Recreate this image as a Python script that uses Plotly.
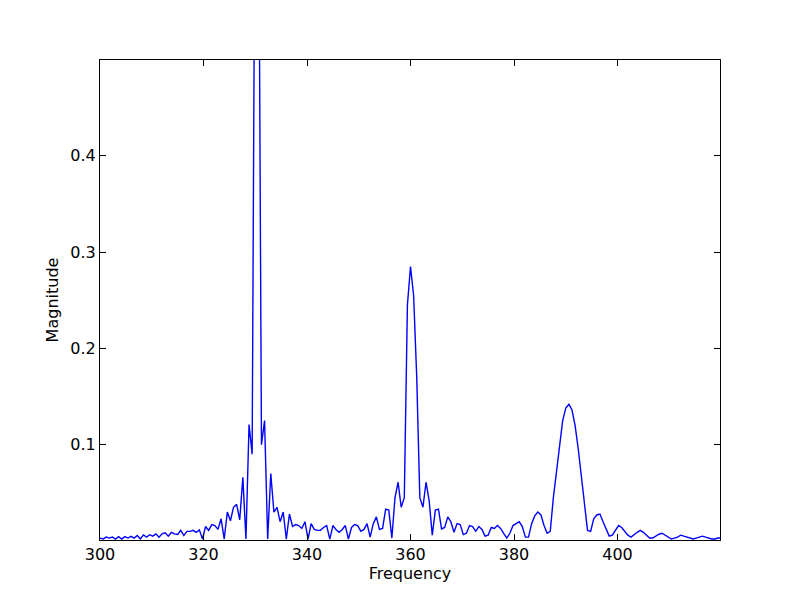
import plotly.graph_objects as go

# Frequency grid (Hz) and magnitude spectrum values
f_start = 300.0
f_step = 0.6
magnitude = [
    # 300 - 309.6
    0.003, 0.002, 0.004, 0.003, 0.004, 0.002, 0.0045, 0.002, 0.0045, 0.003,
    0.0048, 0.003, 0.0056, 0.002, 0.0063, 0.004, 0.0065, 0.005, 0.0074, 0.004,
    # 312 - 321.4
    0.0074, 0.0084, 0.005, 0.009, 0.0074, 0.0067, 0.011, 0.0056, 0.010, 0.010,
    0.011, 0.009, 0.0115, 0.002, 0.015, 0.011, 0.017, 0.016, 0.012, 0.023,
    # 324 - 335.4
    0.002, 0.030, 0.021, 0.035, 0.038, 0.022, 0.066, 0.002, 0.121, 0.090,
    0.75, 0.75, 0.100, 0.125, 0.002, 0.070, 0.030, 0.035, 0.020, 0.030,
    # 336 - 347.4
    0.002, 0.028, 0.015, 0.017, 0.016, 0.013, 0.020, 0.002, 0.018, 0.012,
    0.011, 0.011, 0.014, 0.016, 0.002, 0.016, 0.012, 0.009, 0.012, 0.016,
    # 348 - 359.4
    0.002, 0.014, 0.017, 0.016, 0.010, 0.012, 0.018, 0.004, 0.018, 0.025,
    0.012, 0.013, 0.033, 0.032, 0.003, 0.045, 0.061, 0.035, 0.045, 0.245,
    # 360 - 371.4
    0.285, 0.255, 0.170, 0.045, 0.035, 0.061, 0.042, 0.006, 0.032, 0.033,
    0.0125, 0.014, 0.025, 0.020, 0.009, 0.018, 0.017, 0.0066, 0.008, 0.016,
    # 372 - 383.4
    0.015, 0.010, 0.015, 0.012, 0.005, 0.006, 0.014, 0.013, 0.016, 0.013,
    0.008, 0.003, 0.008, 0.016, 0.018, 0.020, 0.015, 0.004, 0.004, 0.018,
    # 384 - 395.4
    0.026, 0.030, 0.027, 0.016, 0.008, 0.010, 0.045, 0.072, 0.103, 0.125,
    0.138, 0.142, 0.136, 0.120, 0.096, 0.066, 0.037, 0.011, 0.010, 0.023,
    # 396 - 407.4
    0.027, 0.028, 0.020, 0.012, 0.005, 0.006, 0.011, 0.016, 0.014, 0.010,
    0.006, 0.004, 0.007, 0.009, 0.011, 0.009, 0.006, 0.003, 0.003, 0.005,
    # 408 - 420
    0.007, 0.008, 0.006, 0.004, 0.002, 0.003, 0.004, 0.006, 0.005, 0.004,
    0.003, 0.002, 0.003, 0.004, 0.005, 0.004, 0.003, 0.002, 0.002, 0.003,
    0.003,
]
frequency = [f_start + f_step * i for i in range(len(magnitude))]

x_ticks = [300, 320, 340, 360, 380, 400]
y_ticks = [0.1, 0.2, 0.3, 0.4]

fig = go.Figure()
fig.add_trace(go.Scatter(
    x=frequency, y=magnitude, mode="lines",
    line=dict(color="#0000ff", width=1.4),
    showlegend=False, hoverinfo="x+y",
))

font = dict(family="DejaVu Sans", size=16, color="black")
axis_common = dict(
    showgrid=False, zeroline=False,
    showline=True, linecolor="black", linewidth=1, mirror="ticks",
    ticks="inside", ticklen=6, tickwidth=1, tickcolor="black",
    tickfont=font,
)
fig.update_layout(
    width=800, height=600,
    margin=dict(l=92, r=88, t=52, b=68),
    paper_bgcolor="white", plot_bgcolor="white",
    font=font,
    xaxis=dict(range=[300, 419.8], tickvals=x_ticks,
               ticktext=[str(v) for v in x_ticks],
               title=dict(text="Frequency", font=font, standoff=3),
               **axis_common),
    yaxis=dict(range=[0.001, 0.4995], tickvals=y_ticks,
               ticktext=[f"{v:.1f}" for v in y_ticks],
               title=dict(text="Magnitude", font=font, standoff=7),
               **axis_common),
)

fig.write_html("out.html")
